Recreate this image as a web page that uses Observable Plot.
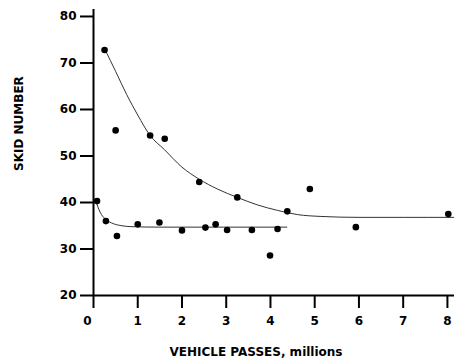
<!DOCTYPE html>
<html>
<head>
<meta charset="utf-8">
<script src="https://cdn.jsdelivr.net/npm/d3@7"></script>
<script src="https://cdn.jsdelivr.net/npm/@observablehq/plot@0.6"></script>
<style>
  html, body { margin: 0; padding: 0; background: #fff; }
</style>
</head>
<body>
<div id="chart"></div>
<script>
// Measured points — upper group (vehicle passes, millions / skid number)
const upperX = [0.25, 0.5, 1.28, 1.61, 2.39, 3.25, 4.38, 4.89, 5.93, 8.02];
const upperY = [72.8, 55.5, 54.4, 53.7, 44.4, 41.1, 38.1, 42.9, 34.7, 37.5];
// Measured points — lower group
const lowerX = [0.08, 0.28, 0.53, 1.0, 1.49, 2.0, 2.53, 2.76, 3.02, 3.58, 3.99, 4.16];
const lowerY = [40.3, 36.0, 32.8, 35.3, 35.7, 34.0, 34.6, 35.3, 34.1, 34.1, 28.6, 34.3];
// Fitted curves
const upperCurveX = [0.27, 0.5, 0.75, 1.0, 1.28, 1.6, 2.0, 2.39, 2.8, 3.25, 3.7, 4.16, 4.61, 5.14, 6.0, 7.0, 8.16];
const upperCurveY = [72.7, 68.2, 63.2, 58.8, 54.4, 51.4, 47.6, 45.0, 42.9, 41.1, 39.5, 38.3, 37.4, 37.0, 36.8, 36.8, 36.8];
const lowerCurveX = [0.05, 0.15, 0.26, 0.41, 0.64, 0.87, 1.5, 4.37];
const lowerCurveY = [40.4, 37.9, 36.5, 35.6, 35.0, 34.8, 34.7, 34.7];
// Axis ticks and titles
const xTicks = [0, 1, 2, 3, 4, 5, 6, 7, 8];
const yTicks = [20, 30, 40, 50, 60, 70, 80];
const xTitle = "VEHICLE PASSES, millions";
const yTitle = "SKID NUMBER";

const toRows = (xs, ys) => xs.map((x, i) => ({x, y: ys[i]}));
const points = [...toRows(upperX, upperY), ...toRows(lowerX, lowerY)];
const upperCurve = toRows(upperCurveX, upperCurveY);
const lowerCurve = toRows(lowerCurveX, lowerCurveY);

const chart = Plot.plot({
  width: 454,
  height: 362,
  marginLeft: 93,
  marginRight: 0,
  marginTop: 9,
  marginBottom: 67,
  x: {domain: [0, 8.16]},
  y: {domain: [20, 81.5]},
  style: {fontFamily: "DejaVu Sans", fontWeight: "bold", fontSize: "12px", color: "black", background: "white"},
  marks: [
    Plot.axisY({ticks: yTicks, tickSize: 13, tickPadding: 4, strokeWidth: 2, label: null}),
    Plot.axisX({ticks: xTicks, tickSize: 13, tickPadding: 8, strokeWidth: 2, label: null,
      tickFormat: d => d === 0 ? "" : String(d)}),
    Plot.axisX({ticks: [0], tickSize: 0, tickPadding: 21, dx: -6, label: null}),
    Plot.ruleX([0], {strokeWidth: 2}),
    Plot.ruleY([20], {strokeWidth: 2}),
    Plot.line(upperCurve, {x: "x", y: "y", curve: "monotone-x", stroke: "#333", strokeWidth: 1}),
    Plot.line(lowerCurve, {x: "x", y: "y", curve: "monotone-x", stroke: "#333", strokeWidth: 1}),
    Plot.dot(points, {x: "x", y: "y", r: 3.3, fill: "black", stroke: "none"}),
    Plot.text([yTitle], {frameAnchor: "left", rotate: -90, dx: -74, dy: 18.5, text: d => d,
      fontSize: 12, fontWeight: "bold"}),
    Plot.text([xTitle], {frameAnchor: "bottom", dx: -18, dy: 60, text: d => d,
      fontSize: 12, fontWeight: "bold"})
  ]
});
document.getElementById("chart").appendChild(chart);
</script>
</body>
</html>
